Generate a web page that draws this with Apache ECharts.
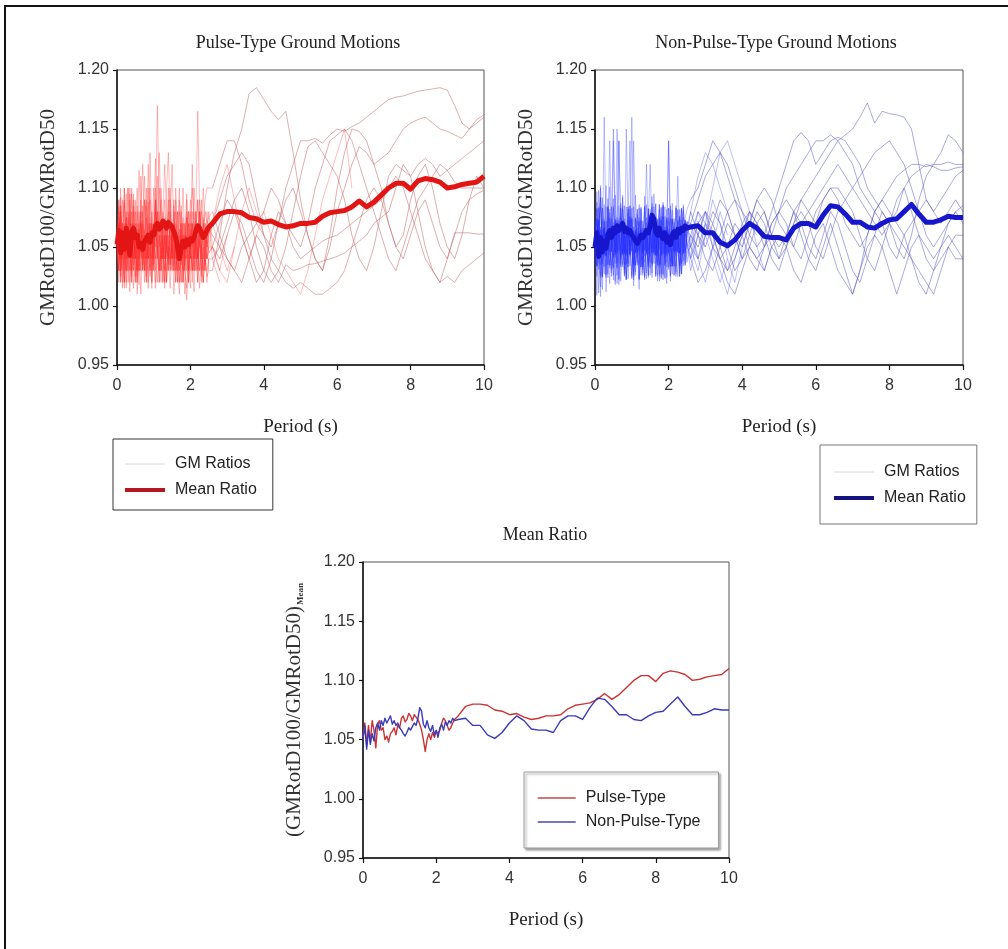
<!DOCTYPE html>
<html><head><meta charset="utf-8">
<script src="https://cdn.jsdelivr.net/npm/echarts@6/dist/echarts.min.js"></script>
<style>html,body{margin:0;padding:0;background:#fff}#c{width:1008px;height:949px}</style>
</head><body><div id="c"></div>
<script>
// ---------- shared period axis (s) ----------
const periods = [
0,0.05,0.1,0.15,0.2,0.25,0.3,0.35,0.4,0.45,
0.5,0.55,0.6,0.65,0.7,0.75,0.8,0.85,0.9,0.95,
1,1.05,1.1,1.15,1.2,1.25,1.3,1.35,1.4,1.45,
1.5,1.55,1.6,1.65,1.7,1.75,1.8,1.85,1.9,1.95,
2,2.05,2.1,2.15,2.2,2.25,2.3,2.35,2.4,2.45,
2.5,
2.6,2.8,3,3.2,3.4,3.6,3.8,4,4.2,4.4,
4.6,4.8,5,5.2,5.4,5.6,5.8,6,6.2,6.4,
6.6,6.8,7,7.2,7.4,7.6,7.8,8,8.2,8.4,
8.6,8.8,9,9.2,9.4,9.6,9.8,10];

const xTicks = [0,2,4,6,8,10];
const yTicks = [0.95,1.00,1.05,1.10,1.15,1.20];

// ---------- Pulse-type GM ratios ----------
const pulseS1 = [1.048,1.085,1.02,1.07,1.035,1.095,1.04,1.012,1.066,1.03,
1.08,1.05,1.018,1.072,1.04,1.06,1.025,1.088,1.045,1.015,
1.078,1.125,1.06,1.03,1.055,1.02,1.07,1.045,1.09,1.035,
1.06,1.01,1.05,1.08,1.04,1.065,1.02,1.05,1.095,1.03,
1.06,1.045,1.012,1.07,1.04,1.08,1.025,1.055,1.035,1.065,
1.045,
1.05,1.03,1.06];
const pulseS2 = [1.06,1.03,1.092,1.05,1.015,1.075,1.058,1.1,1.03,1.07,
1.02,1.085,1.045,1.11,1.06,1.03,1.075,1.04,1.13,1.065,
1.03,1.08,1.17,1.09,1.05,1.02,1.065,1.04,1.1,1.055,
1.03,1.07,1.045,1.02,1.06,1.085,1.04,1.01,1.055,1.03,
1.08,1.05,1.1,1.06,1.03,1.07,1.05,1.02,1.045,1.06,
1.03];
const pulseS3 = [1.035,1.07,1.052,1.015,1.088,1.03,1.06,1.075,1.02,1.095,
1.05,1.03,1.065,1.01,1.05,1.09,1.035,1.06,1.025,1.07,
1.04,1.06,1.11,1.05,1.03,1.075,1.12,1.08,1.04,1.015,
1.06,1.035,1.09,1.05,1.02,1.045,1.07,1.03,1.005,1.04,
1.065,1.02,1.05,1.075,1.165,1.09,1.05,1.02,1.06,1.04,
1.07,
1.04,1.02];
const pulseS4 = [1.07,1.045,1.1,1.03,1.06,1.02,1.08,1.05,1.095,1.035,
1.06,1.04,1.115,1.07,1.03,1.05,1.02,1.065,1.1,1.06,
1.04,1.015,1.05,1.08,1.04,1.06,1.03,1.1,1.13,1.07,
1.04,1.06,1.02,1.05,1.09,1.035,1.06,1.03,1.075,1.05,
1.015,1.06,1.04,1.08,1.05,1.03,1.07,1.1,1.06,1.04,
1.05];
const pulseS5 = [1.045,1.09,1.03,1.06,1.1,1.04,1.075,1.02,1.05,1.085,
1.04,1.065,1.03,1.08,1.12,1.06,1.04,1.1,1.05,1.035,
1.07,1.04,1.02,1.06,1.09,1.04,1.015,1.055,1.035,1.07,
1.12,1.06,1.03,1.045,1.02,1.06,1.1,1.05,1.03,1.07,
1.04,1.12,1.065,1.03,1.05,1.015,1.04,1.065,1.03,1.08,
1.05,
1.07,1.05,1.03,1.05];
const pulseS6 = [1.055,1.02,1.075,1.04,1.065,1.015,1.05,1.08,1.04,1.06,
1.09,1.025,1.06,1.045,1.085,1.03,1.06,1.015,1.05,1.07,
1.035,1.09,1.06,1.13,1.08,1.04,1.06,1.02,1.045,1.07,
1.04,1.085,1.05,1.03,1.01,1.05,1.07,1.04,1.06,1.02,
1.05,1.03,1.07,1.045,1.02,1.055,1.04,1.075,1.05,1.02,
1.04];
const pulseM1 = [1.04,1.075,1.025,1.06,1.09,1.05,1.03,1.07,1.045,1.015,
1.06,1.1,1.05,1.03,1.07,1.04,1.02,1.06,1.04,1.08,
1.05,1.02,1.065,1.1,1.07,1.05,1.03,1.06,1.04,1.09,
1.06,1.03,1.055,1.08,1.045,1.02,1.06,1.035,1.08,1.05,
1.04,1.07,1.03,1.06,1.09,1.05,1.03,1.045,1.07,1.05,
1.06,
1.07,1.1,1.12,1.09,1.06,1.04,1.06,1.08,1.06,1.04,
1.03,1.02,1.01,1.03,1.06,1.09,1.11,1.13,1.15,1.1];
const pulseM2 = [1.065,1.03,1.08,1.05,1.02,1.07,1.04,1.095,1.055,1.03,
1.07,1.01,1.045,1.08,1.03,1.06,1.09,1.04,1.07,1.02,
1.05,1.09,1.04,1.06,1.03,1.08,1.05,1.02,1.07,1.1,
1.05,1.03,1.06,1.02,1.045,1.08,1.05,1.03,1.015,1.06,
1.09,1.05,1.03,1.06,1.04,1.07,1.02,1.05,1.03,1.06,
1.08,
1.05,1.03,1.02,1.05,1.08,1.1,1.08,1.06];
const pulseL1 = [1.05,1.08,1.03,1.06,1.02,1.07,1.045,1.09,1.03,1.06,
1.04,1.02,1.055,1.08,1.04,1.065,1.03,1.05,1.09,1.06,
1.03,1.07,1.05,1.02,1.06,1.04,1.075,1.05,1.03,1.06,
1.04,1.08,1.05,1.03,1.065,1.045,1.02,1.05,1.075,1.04,
1.06,1.03,1.05,1.08,1.04,1.06,1.03,1.02,1.04,1.025,
1.03,
1.03,1.06,1.1,1.13,1.15,1.18,1.185,1.175,1.165,1.158,
1.165,1.13,1.09,1.06,1.04,1.03,1.05,1.08,1.1,1.12,
1.135,1.13,1.12,1.1,1.07,1.05,1.06,1.09,1.11,1.12,
1.1,1.07,1.05,1.04,1.06,1.09,1.11,1.1];
const pulseL2 = [1.06,1.03,1.085,1.045,1.07,1.03,1.1,1.05,1.02,1.065,
1.04,1.08,1.05,1.03,1.07,1.11,1.06,1.04,1.075,1.03,
1.06,1.09,1.05,1.02,1.045,1.07,1.04,1.06,1.03,1.08,
1.05,1.07,1.03,1.06,1.1,1.05,1.03,1.06,1.04,1.02,
1.07,1.05,1.03,1.06,1.04,1.08,1.05,1.03,1.06,1.04,
1.05,
1.05,1.04,1.06,1.08,1.07,1.05,1.03,1.02,1.04,1.07,
1.1,1.12,1.14,1.14,1.142,1.138,1.145,1.15,1.148,1.152,
1.155,1.16,1.165,1.17,1.175,1.177,1.178,1.18,1.182,1.183,
1.184,1.185,1.183,1.17,1.155,1.15,1.158,1.162];
const pulseL3 = [1.04,1.07,1.02,1.09,1.05,1.03,1.06,1.04,1.1,1.06,
1.02,1.05,1.03,1.07,1.045,1.09,1.05,1.12,1.07,1.04,
1.06,1.03,1.08,1.05,1.1,1.06,1.04,1.07,1.05,1.03,
1.065,1.04,1.1,1.06,1.04,1.07,1.03,1.055,1.09,1.06,
1.04,1.08,1.05,1.03,1.06,1.09,1.06,1.04,1.07,1.05,
1.06,
1.07,1.09,1.11,1.12,1.13,1.12,1.09,1.06,1.05,1.07,
1.09,1.1,1.08,1.06,1.04,1.03,1.06,1.1,1.13,1.15,
1.148,1.14,1.12,1.125,1.13,1.14,1.15,1.155,1.158,1.16,
1.155,1.15,1.148,1.145,1.142,1.15,1.155,1.16];
const pulseL4 = [1.055,1.03,1.07,1.045,1.1,1.04,1.065,1.03,1.05,1.08,
1.025,1.06,1.04,1.09,1.06,1.03,1.05,1.02,1.07,1.04,
1.06,1.1,1.05,1.03,1.065,1.045,1.02,1.06,1.08,1.04,
1.05,1.03,1.07,1.04,1.06,1.02,1.045,1.07,1.05,1.03,
1.06,1.1,1.07,1.04,1.06,1.03,1.05,1.07,1.04,1.03,
1.04,
1.04,1.05,1.07,1.09,1.1,1.08,1.05,1.03,1.02,1.03,
1.05,1.08,1.11,1.135,1.14,1.13,1.12,1.11,1.09,1.06,
1.04,1.03,1.05,1.08,1.11,1.12,1.115,1.11,1.12,1.125,
1.12,1.11,1.115,1.12,1.125,1.13,1.135,1.14];
const pulseL5 = [1.03,1.06,1.085,1.04,1.02,1.065,1.05,1.03,1.08,1.04,
1.06,1.02,1.05,1.07,1.035,1.06,1.1,1.045,1.03,1.06,
1.04,1.08,1.05,1.03,1.07,1.04,1.06,1.02,1.05,1.035,
1.07,1.04,1.06,1.03,1.08,1.05,1.02,1.06,1.04,1.07,
1.03,1.05,1.08,1.05,1.02,1.06,1.04,1.07,1.05,1.06,
1.065,
1.06,1.05,1.04,1.03,1.05,1.06,1.07,1.06,1.04,1.03,
1.02,1.015,1.02,1.015,1.01,1.01,1.015,1.02,1.03,1.05,
1.07,1.09,1.1,1.09,1.07,1.05,1.04,1.06,1.08,1.09,
1.07,1.05,1.04,1.06,1.08,1.09,1.095,1.098];
const pulseL6 = [1.065,1.04,1.08,1.02,1.05,1.075,1.03,1.06,1.045,1.09,
1.05,1.03,1.07,1.04,1.06,1.02,1.085,1.05,1.03,1.06,
1.1,1.05,1.07,1.04,1.02,1.06,1.09,1.05,1.04,1.07,
1.03,1.05,1.08,1.045,1.03,1.06,1.04,1.07,1.05,1.02,
1.05,1.07,1.04,1.06,1.03,1.08,1.05,1.03,1.05,1.04,
1.045,
1.05,1.07,1.09,1.08,1.06,1.04,1.02,1.03,1.06,1.08,
1.07,1.05,1.04,1.045,1.05,1.055,1.058,1.06,1.065,1.07,
1.075,1.08,1.085,1.09,1.1,1.11,1.1,1.08,1.06,1.04,
1.03,1.02,1.04,1.062,1.062,1.062,1.061,1.061];
const pulseL7 = [1.05,1.09,1.04,1.07,1.03,1.06,1.1,1.05,1.025,1.06,
1.04,1.07,1.03,1.05,1.08,1.04,1.06,1.03,1.05,1.02,
1.06,1.08,1.04,1.06,1.03,1.05,1.02,1.07,1.05,1.03,
1.06,1.09,1.04,1.06,1.03,1.05,1.075,1.04,1.06,1.08,
1.05,1.03,1.06,1.04,1.07,1.05,1.09,1.06,1.08,1.07,
1.075,
1.08,1.06,1.04,1.03,1.02,1.04,1.06,1.05,1.03,1.02,
1.035,1.03,1.032,1.035,1.036,1.038,1.04,1.042,1.045,1.05,
1.055,1.06,1.07,1.075,1.08,1.1,1.12,1.11,1.08,1.05,
1.03,1.02,1.025,1.02,1.03,1.035,1.04,1.045];
const pulseL8 = [1.045,1.07,1.03,1.06,1.04,1.08,1.02,1.05,1.07,1.04,
1.065,1.03,1.08,1.05,1.03,1.06,1.04,1.07,1.05,1.03,
1.06,1.04,1.08,1.06,1.04,1.07,1.05,1.03,1.06,1.04,
1.07,1.05,1.02,1.06,1.04,1.07,1.05,1.03,1.06,1.08,
1.05,1.07,1.04,1.06,1.09,1.06,1.08,1.07,1.09,1.1,
1.1,
1.1,1.12,1.14,1.14,1.12,1.09,1.07,1.08,1.1,1.09,
1.07,1.06,1.05,1.07,1.1,1.12,1.14,1.145,1.15,1.14,
1.12,1.1,1.08,1.06,1.04,1.03,1.05,1.07,1.09,1.1,
1.11,1.12,1.115,1.105,1.1,1.1,1.1,1.1];

// ---------- Non-pulse-type GM ratios ----------
const nonPulseS1 = [1.052,1.088,1.031,1.067,1.044,1.16,1.058,1.027,1.079,1.049,
1.063,1.018,1.071,1.055,1.036,1.094,1.047,1.022,1.061,1.042,
1.083,1.035,1.057,1.046,1.014,1.072,1.039,1.064,1.028,1.077,
1.051,1.024,1.066,1.043,1.069,1.033,1.054,1.085,1.041,1.019,
1.062,1.038,1.074,1.052,1.029,1.058,1.045,1.081,1.049,1.034,
1.063,
1.041,1.072,1.05];
const nonPulseS2 = [1.071,1.034,1.059,1.092,1.043,1.065,1.012,1.053,1.082,1.046,
1.14,1.063,1.032,1.074,1.039,1.061,1.028,1.15,1.069,1.044,
1.058,1.017,1.049,1.078,1.036,1.066,1.031,1.093,1.052,1.026,
1.064,1.045,1.073,1.054,1.037,1.062,1.023,1.086,1.047,1.059,
1.14,1.048,1.033,1.071,1.042,1.067,1.025,1.056,1.075,1.039,
1.061,
1.07,1.04,1.02,1.05,1.08,1.06];
const nonPulseS3 = [1.043,1.097,1.054,1.016,1.073,1.047,1.102,1.056,1.034,1.062,
1.091,1.041,1.065,1.14,1.072,1.035,1.059,1.044,1.079,1.051,
1.16,1.068,1.029,1.061,1.046,1.084,1.053,1.022,1.064,1.038,
1.072,1.049,1.095,1.043,1.063,1.027,1.052,1.076,1.041,1.067,
1.033,1.055,1.087,1.046,1.062,1.11,1.054,1.036,1.066,1.045,
1.071,
1.05,1.03,1.06,1.09,1.07,1.04,1.02,1.05,1.07,1.06];
const nonPulseS4 = [1.064,1.009,1.083,1.045,1.061,1.033,1.072,1.052,1.019,1.066,
1.041,1.094,1.057,1.036,1.075,1.046,1.063,1.024,1.054,1.085,
1.047,1.14,1.062,1.037,1.071,1.055,1.028,1.064,1.043,1.082,
1.056,1.034,1.067,1.048,1.073,1.021,1.053,1.088,1.044,1.065,
1.031,1.074,1.051,1.026,1.063,1.047,1.076,1.055,1.038,1.061,
1.052,
1.03,1.06,1.08,1.05,1.03,1.01,1.04,1.06,1.08,1.05,1.03,1.05];
const nonPulseS5 = [1.036,1.074,1.055,1.102,1.046,1.067,1.024,1.083,1.052,1.031,
1.071,1.043,1.064,1.018,1.057,1.092,1.045,1.068,1.033,1.076,
1.054,1.022,1.063,1.041,1.086,1.053,1.035,1.066,1.12,1.056,
1.032,1.073,1.046,1.062,1.026,1.058,1.084,1.044,1.067,1.037,
1.075,1.052,1.034,1.064,1.047,1.082,1.055,1.027,1.061,1.043,
1.072,
1.05,1.08,1.06,1.04,1.02,1.04];
const nonPulseS6 = [1.058,1.033,1.072,1.047,1.014,1.066,1.042,1.091,1.053,1.028,
1.064,1.046,1.15,1.073,1.041,1.062,1.031,1.056,1.084,1.044,
1.065,1.029,1.074,1.052,1.023,1.061,1.045,1.083,1.054,1.036,
1.063,1.048,1.071,1.025,1.057,1.086,1.043,1.064,1.034,1.075,
1.053,1.021,1.062,1.047,1.085,1.056,1.032,1.066,1.045,1.073,
1.054];
const nonPulseS7 = [1.072,1.045,1.098,1.024,1.056,1.086,1.043,1.065,1.032,1.074,
1.054,1.021,1.062,1.047,1.083,1.053,1.035,1.067,1.044,1.076,
1.026,1.057,1.094,1.046,1.064,1.033,1.072,1.055,1.023,1.061,
1.042,1.087,1.053,1.036,1.066,1.048,1.073,1.027,1.056,1.082,
1.045,1.063,1.034,1.074,1.052,1.025,1.064,1.043,1.081,1.055,
1.037,
1.06,1.04,1.07,1.1,1.13,1.14,1.12,1.1,1.08];
const nonPulseS8 = [1.044,1.066,1.011,1.084,1.053,1.027,1.062,1.046,1.075,1.055,
1.032,1.064,1.019,1.056,1.087,1.043,1.065,1.036,1.073,1.052,
1.024,1.063,1.045,1.082,1.054,1.033,1.066,1.047,1.071,1.026,
1.057,1.093,1.044,1.062,1.035,1.074,1.053,1.022,1.064,1.042,
1.083,1.056,1.034,1.065,1.046,1.072,1.028,1.055,1.084,1.045,
1.063,
1.08,1.11,1.13,1.12,1.1,1.08,1.06,1.04];
const nonPulseL1 = [1.053,1.082,1.036,1.064,1.025,1.071,1.046,1.062,1.101,1.054,
1.033,1.073,1.045,1.066,1.021,1.057,1.085,1.043,1.063,1.034,
1.074,1.052,1.026,1.061,1.047,1.083,1.055,1.037,1.066,1.044,
1.072,1.028,1.056,1.086,1.042,1.064,1.035,1.075,1.053,1.024,
1.062,1.046,1.081,1.054,1.033,1.067,1.045,1.073,1.056,1.063,
1.071,
1.07,1.06,1.04,1.03,1.05,1.07,1.06,1.04,1.05,1.07,
1.08,1.06,1.04,1.05,1.07,1.09,1.1,1.11,1.12,1.13,
1.14,1.145,1.15,1.16,1.172,1.155,1.165,1.163,1.162,1.16,
1.15,1.12,1.09,1.08,1.09,1.1,1.11,1.115];
const nonPulseL2 = [1.062,1.034,1.073,1.045,1.092,1.056,1.027,1.064,1.043,1.084,
1.052,1.036,1.065,1.14,1.063,1.044,1.074,1.023,1.055,1.082,
1.046,1.067,1.035,1.072,1.054,1.026,1.063,1.042,1.086,1.053,
1.037,1.066,1.045,1.075,1.021,1.056,1.083,1.044,1.064,1.033,
1.072,1.053,1.027,1.065,1.046,1.081,1.054,1.036,1.066,1.047,
1.052,
1.05,1.04,1.06,1.08,1.07,1.05,1.03,1.04,1.06,1.08,
1.07,1.05,1.04,1.06,1.08,1.07,1.05,1.04,1.06,1.08,
1.07,1.05,1.03,1.02,1.04,1.06,1.08,1.07,1.05,1.04,
1.06,1.09,1.11,1.12,1.13,1.145,1.14,1.13];
const nonPulseL3 = [1.045,1.074,1.053,1.008,1.065,1.042,1.084,1.035,1.063,1.056,
1.026,1.072,1.046,1.064,1.033,1.085,1.054,1.022,1.062,1.044,
1.073,1.055,1.034,1.066,1.043,1.082,1.053,1.025,1.064,1.047,
1.075,1.036,1.056,1.087,1.045,1.063,1.024,1.054,1.076,1.043,
1.065,1.034,1.073,1.052,1.027,1.066,1.045,1.083,1.055,1.036,
1.067,
1.07,1.09,1.11,1.12,1.13,1.12,1.1,1.08,1.06,1.05,
1.06,1.08,1.1,1.12,1.14,1.147,1.14,1.12,1.13,1.14,
1.143,1.14,1.13,1.12,1.1,1.09,1.08,1.07,1.06,1.05,
1.04,1.03,1.02,1.01,1.03,1.05,1.06,1.06];
const nonPulseL4 = [1.073,1.044,1.065,1.035,1.083,1.054,1.026,1.063,1.046,1.075,
1.15,1.064,1.036,1.072,1.043,1.066,1.025,1.055,1.084,1.045,
1.062,1.034,1.074,1.053,1.022,1.064,1.047,1.085,1.056,1.033,
1.063,1.045,1.076,1.027,1.054,1.082,1.043,1.065,1.036,1.073,
1.052,1.025,1.064,1.046,1.083,1.054,1.035,1.066,1.044,1.074,
1.082,
1.09,1.1,1.12,1.14,1.13,1.11,1.09,1.07,1.05,1.04,
1.05,1.07,1.08,1.1,1.11,1.12,1.13,1.14,1.14,1.145,
1.14,1.13,1.12,1.1,1.09,1.08,1.09,1.1,1.11,1.115,
1.12,1.12,1.118,1.12,1.12,1.122,1.12,1.12];
const nonPulseL5 = [1.054,1.025,1.063,1.092,1.046,1.072,1.034,1.065,1.14,1.063,
1.042,1.074,1.026,1.055,1.083,1.044,1.066,1.035,1.073,1.052,
1.023,1.064,1.045,1.082,1.056,1.033,1.062,1.047,1.075,1.024,
1.056,1.084,1.043,1.065,1.034,1.072,1.053,1.026,1.064,1.045,
1.083,1.054,1.036,1.067,1.044,1.073,1.025,1.055,1.086,1.062,
1.052,
1.04,1.02,1.03,1.05,1.04,1.02,1.01,1.03,1.05,1.04,
1.03,1.05,1.06,1.05,1.03,1.02,1.04,1.06,1.07,1.05,
1.03,1.02,1.01,1.03,1.05,1.06,1.05,1.03,1.01,1.03,
1.05,1.06,1.05,1.04,1.05,1.06,1.05,1.04];
const nonPulseL6 = [1.063,1.045,1.084,1.055,1.024,1.066,1.043,1.074,1.035,1.056,
1.083,1.046,1.064,1.022,1.054,1.073,1.044,1.065,1.033,1.085,
1.053,1.025,1.062,1.046,1.075,1.055,1.034,1.066,1.045,1.082,
1.026,1.054,1.073,1.043,1.064,1.035,1.076,1.052,1.023,1.063,
1.044,1.085,1.056,1.034,1.065,1.046,1.074,1.027,1.055,1.072,
1.063,
1.06,1.05,1.07,1.06,1.04,1.05,1.07,1.06,1.04,1.03,
1.05,1.07,1.08,1.07,1.05,1.04,1.06,1.08,1.09,1.1,
1.1,1.09,1.1,1.11,1.12,1.13,1.135,1.14,1.13,1.12,
1.1,1.08,1.06,1.05,1.06,1.07,1.08,1.085];
const nonPulseL7 = [1.034,1.072,1.055,1.026,1.083,1.044,1.063,1.035,1.074,1.053,
1.022,1.064,1.045,1.085,1.054,1.033,1.065,1.043,1.076,1.14,
1.055,1.084,1.046,1.063,1.034,1.073,1.052,1.024,1.065,1.046,
1.082,1.055,1.036,1.064,1.043,1.075,1.027,1.056,1.084,1.045,
1.062,1.033,1.074,1.054,1.025,1.066,1.044,1.083,1.053,1.035,
1.046,
1.05,1.07,1.08,1.06,1.04,1.03,1.05,1.07,1.08,1.07,
1.05,1.06,1.08,1.09,1.08,1.06,1.04,1.03,1.05,1.07,
1.05,1.03,1.01,1.03,1.06,1.08,1.07,1.05,1.04,1.06,
1.04,1.02,1.01,1.03,1.05,1.07,1.08,1.07];
const nonPulseL8 = [1.056,1.083,1.044,1.065,1.035,1.074,1.053,1.024,1.063,1.046,
1.085,1.055,1.033,1.066,1.045,1.072,1.026,1.054,1.082,1.043,
1.064,1.036,1.075,1.052,1.023,1.065,1.044,1.084,1.056,1.034,
1.063,1.045,1.073,1.025,1.055,1.086,1.043,1.064,1.035,1.074,
1.053,1.026,1.062,1.046,1.083,1.055,1.034,1.066,1.045,1.073,
1.064,
1.08,1.06,1.05,1.07,1.09,1.08,1.06,1.05,1.07,1.09,
1.1,1.09,1.07,1.06,1.05,1.07,1.08,1.09,1.1,1.11,
1.12,1.11,1.1,1.09,1.08,1.07,1.06,1.07,1.08,1.1,
1.11,1.115,1.12,1.118,1.115,1.115,1.117,1.118];
const nonPulseL9 = [1.064,1.035,1.073,1.054,1.025,1.066,1.043,1.084,1.055,1.034,
1.063,1.046,1.075,1.023,1.056,1.082,1.044,1.065,1.036,1.074,
1.053,1.026,1.064,1.045,1.083,1.054,1.033,1.066,1.047,1.072,
1.12,1.055,1.084,1.043,1.064,1.035,1.073,1.052,1.024,1.065,
1.046,1.082,1.056,1.034,1.063,1.045,1.076,1.027,1.055,1.064,
1.052,
1.04,1.06,1.08,1.07,1.05,1.03,1.04,1.06,1.08,1.07,
1.06,1.04,1.03,1.05,1.07,1.08,1.07,1.05,1.04,1.06,
1.08,1.09,1.08,1.06,1.04,1.03,1.05,1.07,1.09,1.1,
1.08,1.06,1.04,1.03,1.04,1.05,1.04,1.04];
const nonPulseL10 = [1.045,1.074,1.056,1.1,1.036,1.064,1.043,1.085,1.054,1.025,
1.066,1.044,1.073,1.055,1.034,1.063,1.046,1.084,1.023,1.056,
1.075,1.043,1.065,1.035,1.072,1.053,1.026,1.064,1.045,1.083,
1.054,1.036,1.066,1.044,1.074,1.025,1.055,1.085,1.043,1.062,
1.14,1.073,1.054,1.026,1.065,1.046,1.082,1.055,1.034,1.063,
1.052,
1.06,1.08,1.07,1.05,1.06,1.08,1.09,1.08,1.07,1.09,
1.08,1.06,1.05,1.06,1.08,1.09,1.08,1.07,1.09,1.1,
1.09,1.07,1.06,1.05,1.06,1.08,1.09,1.08,1.07,1.06,
1.07,1.08,1.09,1.08,1.07,1.08,1.09,1.08];

// ---------- Mean ratios ----------
const pulseMean = [1.052,1.064,1.045,1.062,1.048,1.066,1.058,1.043,1.063,1.066,
1.058,1.06,1.05,1.053,1.048,1.055,1.057,1.06,1.054,1.062,
1.06,1.068,1.07,1.065,1.067,1.072,1.07,1.066,1.071,1.069,
1.067,1.063,1.058,1.05,1.04,1.05,1.055,1.05,1.056,1.052,
1.057,1.055,1.058,1.064,1.068,1.066,1.062,1.058,1.06,1.064,
1.067,
1.07,1.078,1.08,1.08,1.079,1.075,1.074,1.071,1.072,1.069,
1.067,1.068,1.07,1.07,1.071,1.076,1.079,1.08,1.081,1.084,
1.089,1.084,1.088,1.094,1.1,1.104,1.104,1.099,1.106,1.108,
1.107,1.105,1.1,1.101,1.103,1.104,1.105,1.11];
const nonPulseMean = [1.05,1.062,1.042,1.058,1.046,1.055,1.049,1.06,1.064,1.058,
1.066,1.062,1.068,1.064,1.067,1.07,1.063,1.066,1.062,1.064,
1.06,1.058,1.055,1.053,1.056,1.06,1.058,1.061,1.064,1.062,
1.068,1.077,1.074,1.063,1.06,1.066,1.06,1.057,1.062,1.054,
1.058,1.052,1.06,1.063,1.058,1.065,1.062,1.066,1.064,1.068,
1.066,
1.067,1.068,1.062,1.062,1.054,1.051,1.056,1.064,1.07,1.066,
1.059,1.058,1.058,1.056,1.066,1.07,1.07,1.067,1.077,1.085,
1.084,1.078,1.071,1.071,1.067,1.066,1.07,1.073,1.074,1.08,
1.086,1.078,1.071,1.071,1.073,1.076,1.075,1.075];

const pulseShort = [pulseS1,pulseS2,pulseS3,pulseS4,pulseS5,pulseS6,pulseM1,pulseM2];
const pulseLong = [pulseL1,pulseL2,pulseL3,pulseL4,pulseL5,pulseL6,pulseL7,pulseL8];
const nonPulseShort = [nonPulseS1,nonPulseS2,nonPulseS3,nonPulseS4,nonPulseS5,nonPulseS6,nonPulseS7,nonPulseS8];
const nonPulseLong = [nonPulseL1,nonPulseL2,nonPulseL3,nonPulseL4,nonPulseL5,nonPulseL6,nonPulseL7,nonPulseL8,nonPulseL9,nonPulseL10];

// ---------- chart ----------
const SERIF = 'Liberation Serif';
const SANS = 'Liberation Sans';
const SPLIT = 52; // points up to 2.6 s belong to the dense short-period band
function pts(vals){ return vals.map((v,i)=>[periods[i], v]); }
function lineSeries(name, data, idx, color, width, z){
  return {name:name, type:'line', xAxisIndex:idx, yAxisIndex:idx, data:data,
    symbol:'none', silent:true, animation:false, z:z,
    lineStyle:{color:color, width:width, join:'round'}, itemStyle:{color:color}};
}
function xAx(idx){
  return {type:'value', gridIndex:idx, min:xTicks[0], max:xTicks[xTicks.length-1], interval:xTicks[1]-xTicks[0],
    name:'Period (s)', nameLocation:'middle', nameGap:53,
    nameTextStyle:{fontFamily:SERIF, fontSize:19, color:'#222'},
    axisLine:{show:true, onZero:false, lineStyle:{color:'#111', width:1.5}},
    axisTick:{show:true, length:5, lineStyle:{color:'#111', width:1.2}},
    axisLabel:{fontFamily:SANS, fontSize:16, color:'#333', margin:13},
    splitLine:{show:false}};
}
function yAx(idx, name, rich){
  const a = {type:'value', gridIndex:idx, min:yTicks[0], max:yTicks[yTicks.length-1], interval:0.05,
    name:name, nameLocation:'middle', nameRotate:90, nameGap:58,
    nameTextStyle:{fontFamily:SERIF, fontSize:21, color:'#333'},
    axisLine:{show:true, onZero:false, lineStyle:{color:'#111', width:1.5}},
    axisTick:{show:true, length:4, lineStyle:{color:'#111', width:1.2}},
    axisLabel:{fontFamily:SANS, fontSize:16, color:'#333', margin:8, formatter:v=>v.toFixed(2)},
    splitLine:{show:false}};
  if (rich) a.nameTextStyle.rich = rich;
  return a;
}

const series = [];
const pulseThin = 'rgba(255,35,35,0.3)', pulseLongC = 'rgba(190,95,95,0.5)';
const npThin = 'rgba(35,45,255,0.3)', npLongC = 'rgba(85,85,190,0.5)';
pulseShort.forEach(v=>series.push(lineSeries('GM Ratios', pts(v), 0, pulseThin, 1, 2)));
pulseLong.forEach(v=>{
  const p = pts(v);
  series.push(lineSeries('GM Ratios', p.slice(0, SPLIT), 0, pulseThin, 1, 2));
  series.push(lineSeries('GM Ratios', p.slice(SPLIT-1), 0, pulseLongC, 1, 2));
});
series.push(lineSeries('Mean Ratio', pts(pulseMean), 0, '#e31414', 5, 5));
nonPulseShort.forEach(v=>series.push(lineSeries('GM Ratios ', pts(v), 1, npThin, 1, 2)));
nonPulseLong.forEach(v=>{
  const p = pts(v);
  series.push(lineSeries('GM Ratios ', p.slice(0, SPLIT), 1, npThin, 1, 2));
  series.push(lineSeries('GM Ratios ', p.slice(SPLIT-1), 1, npLongC, 1, 2));
});
series.push(lineSeries('Mean Ratio ', pts(nonPulseMean), 1, '#1616cc', 5, 5));
series.push(lineSeries('Pulse-Type', pts(pulseMean), 2, '#cc3333', 1.4, 5));
series.push(lineSeries('Non-Pulse-Type', pts(nonPulseMean), 2, '#3a3ab8', 1.4, 6));

const hidden = {opacity:0};
const legendText = {fontFamily:SANS, fontSize:16, color:'#222', padding:[0,0,0,5]};
const option = {
  backgroundColor:'#ffffff',
  animation:false,
  title:[
    {text:'Pulse-Type Ground Motions', left:298, top:34, textAlign:'center', padding:0,
     textStyle:{fontFamily:SERIF, fontSize:18, fontWeight:'normal', color:'#222'}},
    {text:'Non-Pulse-Type Ground Motions', left:776, top:34, textAlign:'center', padding:0,
     textStyle:{fontFamily:SERIF, fontSize:18, fontWeight:'normal', color:'#222'}},
    {text:'Mean Ratio', left:545, top:526, textAlign:'center', padding:0,
     textStyle:{fontFamily:SERIF, fontSize:18, fontWeight:'normal', color:'#222'}}
  ],
  grid:[
    {left:117, top:70, width:367, height:295, show:true, borderColor:'#555', borderWidth:1},
    {left:595, top:70, width:368, height:295, show:true, borderColor:'#555', borderWidth:1},
    {left:363, top:562, width:366, height:296, show:true, borderColor:'#555', borderWidth:1}
  ],
  xAxis:[xAx(0), xAx(1), xAx(2)],
  yAxis:[
    yAx(0,'GMRotD100/GMRotD50'),
    yAx(1,'GMRotD100/GMRotD50'),
    yAx(2,'{a|(GMRotD100/GMRotD50)}{b|Mean}', {
      a:{fontFamily:SERIF, fontSize:21, color:'#333'},
      b:{fontFamily:SERIF, fontSize:9, fontWeight:'bold', color:'#333', verticalAlign:'bottom', padding:[0,0,0,1]}
    })
  ],
  legend:[
    {left:113, top:439, orient:'vertical', selectedMode:false, itemWidth:40, itemHeight:14, itemGap:10,
     padding:[17,16,12,10], borderColor:'#333', borderWidth:1, backgroundColor:'#fff',
     textStyle:legendText,
     data:[{name:'GM Ratios', itemStyle:hidden, lineStyle:{color:'#d6d6d6', width:1}},
           {name:'Mean Ratio', itemStyle:hidden, lineStyle:{color:'#b31722', width:4}}]},
    {left:820, top:445, orient:'vertical', selectedMode:false, itemWidth:40, itemHeight:14, itemGap:10,
     padding:[19,11,18,12], borderColor:'#777', borderWidth:1, backgroundColor:'#fff',
     textStyle:legendText, formatter:n=>n.trim(),
     data:[{name:'GM Ratios ', itemStyle:hidden, lineStyle:{color:'#d6d6d6', width:1}},
           {name:'Mean Ratio ', itemStyle:hidden, lineStyle:{color:'#141480', width:4}}]},
    {left:524, top:772, orient:'vertical', selectedMode:false, itemWidth:38, itemHeight:14, itemGap:8,
     padding:[18,18,18,13], borderColor:'#999', borderWidth:1, backgroundColor:'#fff',
     shadowColor:'rgba(0,0,0,0.35)', shadowBlur:2, shadowOffsetX:2, shadowOffsetY:2,
     textStyle:{fontFamily:SANS, fontSize:16, color:'#222', padding:[0,0,0,5]},
     data:[{name:'Pulse-Type', itemStyle:hidden, lineStyle:{color:'#c04848', width:1.5}},
           {name:'Non-Pulse-Type', itemStyle:hidden, lineStyle:{color:'#4848a8', width:1.5}}]}
  ],
  graphic:[
    {type:'rect', shape:{x:5, y:6, width:1010, height:1000}, style:{fill:'none', stroke:'#111', lineWidth:2}, silent:true, z:100}
  ],
  series:series
};
const chart = echarts.init(document.getElementById('c'), null, {renderer:'canvas'});
chart.setOption(option);
</script>
</body></html>
